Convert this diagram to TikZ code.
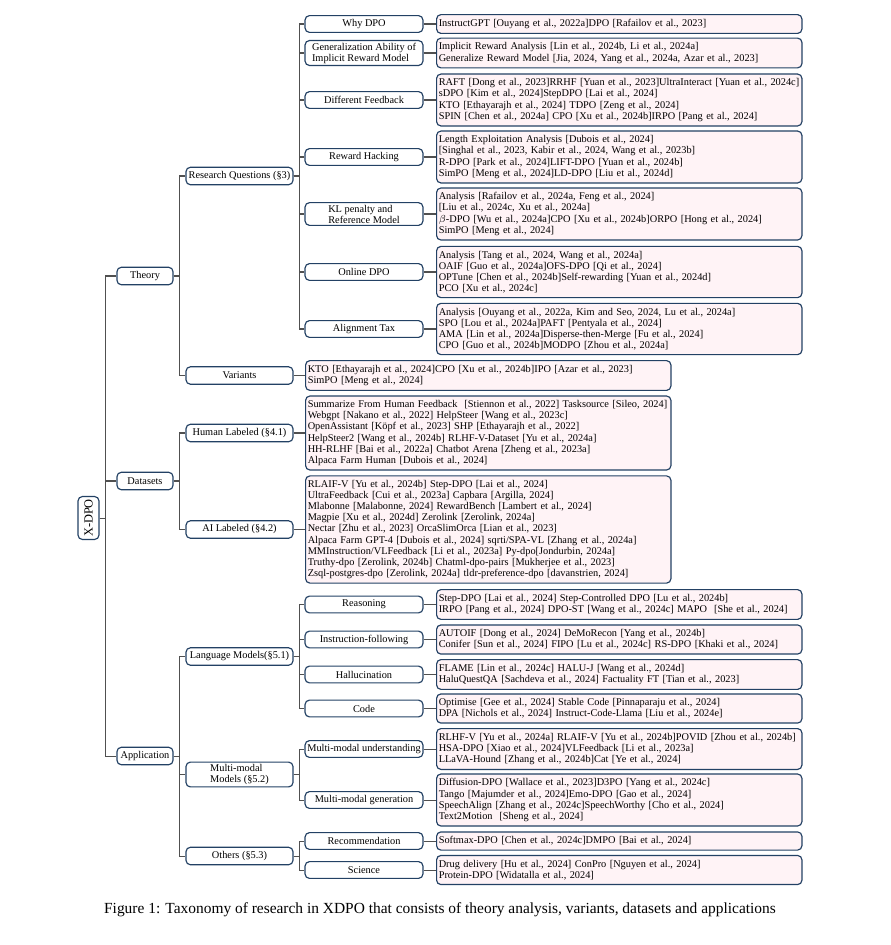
\documentclass[tikz,border=0pt]{standalone}
\usepackage{fontspec}
\setmainfont{Liberation Serif}
\usepackage{graphicx}
\usepackage{xcolor}
\definecolor{boxblue}{RGB}{35,65,100}
\definecolor{leafpink}{RGB}{255,243,246}
\definecolor{linkgray}{RGB}{80,80,80}
\tikzset{
  box/.style={draw=boxblue, rounded corners=3pt, line width=0.8pt, fill=white, inner sep=1.5pt, font=\fontsize{7.1}{7.6}\selectfont},
  rootbox/.style={box, minimum width=14.4pt, minimum height=29.5pt, font=\fontsize{8.5}{9}\selectfont},
  levone/.style={box, minimum width=38.5pt, minimum height=12pt},
  levtwo/.style={box, minimum width=73.5pt, minimum height=12pt, align=left},
  levthree/.style={box, minimum width=81pt, minimum height=11.5pt, align=left},
  leaf/.style={box, fill=leafpink, text width=248pt, align=left, inner ysep=3.2pt, anchor=west},
  link/.style={draw=linkgray, line width=0.7pt}
}
\begin{document}
\begin{tikzpicture}[x=0.687pt,y=-0.687pt]
\useasboundingbox (0,0) rectangle (891,945);

\node [rootbox] (xdpo) at (88.5,518) {\rotatebox{90}{X-DPO}};

\node [levone] (theory) at (145,276) {Theory};
\node [levone] (datasets) at (145,481) {Datasets};
\node [levone] (application) at (145,756) {Application};

\node [levtwo] (rq) at (239.5,176) {Research Questions (§3)};
\node [levtwo] (variants) at (239.5,375.5) {Variants};
\node [levtwo] (human) at (239.5,433) {Human Labeled (§4.1)};
\node [levtwo] (ailab) at (239.5,529.5) {AI Labeled (§4.2)};
\node [levtwo] (langm) at (239.5,656.5) {Language Models(§5.1)};
\node [levtwo] (mmodel) at (239.5,774.5) {Multi-modal\\Models (§5.2)};
\node [levtwo] (others) at (239.5,856) {Others (§5.3)};

\node [levthree] (why) at (364,24) {Why DPO};
\node [levthree] (gener) at (364,53) {Generalization Ability of\\Implicit Reward Model};
\node [levthree] (feedback) at (364,100) {Different Feedback};
\node [levthree] (hacking) at (364,157) {Reward Hacking};
\node [levthree] (klpen) at (364,214) {KL penalty and\\Reference Model};
\node [levthree] (online) at (364,272) {Online DPO};
\node [levthree] (tax) at (364,329) {Alignment Tax};
\node [levthree] (reason) at (364,604.5) {Reasoning};
\node [levthree] (instr) at (364,639.5) {Instruction-following};
\node [levthree] (hallu) at (364,674.5) {Hallucination};
\node [levthree] (code) at (364,708.5) {Code};
\node [levthree] (mmund) at (364,749) {Multi-modal understanding};
\node [levthree] (mmgen) at (364,800) {Multi-modal generation};
\node [levthree] (recom) at (364,841) {Recommendation};
\node [levthree] (sci) at (364,870) {Science};

\node [leaf] (whyL) at (436,24) {InstructGPT [Ouyang et al., 2022a]DPO [Rafailov et al., 2023]};
\node [leaf] (generL) at (436,53) {Implicit Reward Analysis [Lin et al., 2024b, Li et al., 2024a]\\Generalize Reward Model [Jia, 2024, Yang et al., 2024a, Azar et al., 2023]};
\node [leaf] (feedbackL) at (436,100) {RAFT [Dong et al., 2023]RRHF [Yuan et al., 2023]UltraInteract [Yuan et al., 2024c]\\sDPO [Kim et al., 2024]StepDPO [Lai et al., 2024]\\KTO [Ethayarajh et al., 2024] TDPO [Zeng et al., 2024]\\SPIN [Chen et al., 2024a] CPO [Xu et al., 2024b]IRPO [Pang et al., 2024]};
\node [leaf] (hackingL) at (436,157) {Length Exploitation Analysis [Dubois et al., 2024]\\ {[}Singhal et al., 2023, Kabir et al., 2024, Wang et al., 2023b]\\R-DPO [Park et al., 2024]LIFT-DPO [Yuan et al., 2024b]\\SimPO [Meng et al., 2024]LD-DPO [Liu et al., 2024d]};
\node [leaf] (klpenL) at (436,214) {Analysis [Rafailov et al., 2024a, Feng et al., 2024]\\ {[}Liu et al., 2024c, Xu et al., 2024a]\\$\beta$-DPO [Wu et al., 2024a]CPO [Xu et al., 2024b]ORPO [Hong et al., 2024]\\SimPO [Meng et al., 2024]};
\node [leaf] (onlineL) at (436,272) {Analysis [Tang et al., 2024, Wang et al., 2024a]\\OAIF [Guo et al., 2024a]OFS-DPO [Qi et al., 2024]\\OPTune [Chen et al., 2024b]Self-rewarding [Yuan et al., 2024d]\\PCO [Xu et al., 2024c]};
\node [leaf] (taxL) at (436,329) {Analysis [Ouyang et al., 2022a, Kim and Seo, 2024, Lu et al., 2024a]\\SPO [Lou et al., 2024a]PAFT [Pentyala et al., 2024]\\AMA [Lin et al., 2024a]Disperse-then-Merge [Fu et al., 2024]\\CPO [Guo et al., 2024b]MODPO [Zhou et al., 2024a]};

\node [leaf] (variantsL) at (305,375.5) {KTO [Ethayarajh et al., 2024]CPO [Xu et al., 2024b]IPO [Azar et al., 2023]\\SimPO [Meng et al., 2024]};
\node [leaf] (humanL) at (305,433) {Summarize From Human Feedback \ [Stiennon et al., 2022] Tasksource [Sileo, 2024]\\Webgpt [Nakano et al., 2022] HelpSteer [Wang et al., 2023c]\\OpenAssistant [Köpf et al., 2023] SHP [Ethayarajh et al., 2022]\\HelpSteer2 [Wang et al., 2024b] RLHF-V-Dataset [Yu et al., 2024a]\\HH-RLHF [Bai et al., 2022a] Chatbot Arena [Zheng et al., 2023a]\\Alpaca Farm Human [Dubois et al., 2024]};
\node [leaf] (ailabL) at (305,529.5) {RLAIF-V [Yu et al., 2024b] Step-DPO [Lai et al., 2024]\\UltraFeedback [Cui et al., 2023a] Capbara [Argilla, 2024]\\Mlabonne [Malabonne, 2024] RewardBench [Lambert et al., 2024]\\Magpie [Xu et al., 2024d] Zerolink [Zerolink, 2024a]\\Nectar [Zhu et al., 2023] OrcaSlimOrca [Lian et al., 2023]\\Alpaca Farm GPT-4 [Dubois et al., 2024] sqrti/SPA-VL [Zhang et al., 2024a]\\MMInstruction/VLFeedback [Li et al., 2023a] Py-dpo[Jondurbin, 2024a]\\Truthy-dpo [Zerolink, 2024b] Chatml-dpo-pairs [Mukherjee et al., 2023]\\Zsql-postgres-dpo [Zerolink, 2024a] tldr-preference-dpo [davanstrien, 2024]};

\node [leaf] (reasonL) at (436,604.5) {Step-DPO [Lai et al., 2024] Step-Controlled DPO [Lu et al., 2024b]\\IRPO [Pang et al., 2024] DPO-ST [Wang et al., 2024c] MAPO \ [She et al., 2024]};
\node [leaf] (instrL) at (436,639.5) {AUTOIF [Dong et al., 2024] DeMoRecon [Yang et al., 2024b]\\Conifer [Sun et al., 2024] FIPO [Lu et al., 2024c] RS-DPO [Khaki et al., 2024]};
\node [leaf] (halluL) at (436,674.5) {FLAME [Lin et al., 2024c] HALU-J [Wang et al., 2024d]\\HaluQuestQA [Sachdeva et al., 2024] Factuality FT [Tian et al., 2023]};
\node [leaf] (codeL) at (436,708.5) {Optimise [Gee et al., 2024] Stable Code [Pinnaparaju et al., 2024]\\DPA [Nichols et al., 2024] Instruct-Code-Llama [Liu et al., 2024e]};
\node [leaf] (mmundL) at (436,749) {RLHF-V [Yu et al., 2024a] RLAIF-V [Yu et al., 2024b]POVID [Zhou et al., 2024b]\\HSA-DPO [Xiao et al., 2024]VLFeedback [Li et al., 2023a]\\LLaVA-Hound [Zhang et al., 2024b]Cat [Ye et al., 2024]};
\node [leaf] (mmgenL) at (436,800) {Diffusion-DPO [Wallace et al., 2023]D3PO [Yang et al., 2024c]\\Tango [Majumder et al., 2024]Emo-DPO [Gao et al., 2024]\\SpeechAlign [Zhang et al., 2024c]SpeechWorthy [Cho et al., 2024]\\Text2Motion \ [Sheng et al., 2024]};
\node [leaf] (recomL) at (436,841) {Softmax-DPO [Chen et al., 2024c]DMPO [Bai et al., 2024]};
\node [leaf] (sciL) at (436,870) {Drug delivery [Hu et al., 2024] ConPro [Nguyen et al., 2024]\\Protein-DPO [Widatalla et al., 2024]};

\draw [link] (xdpo.east) -- +(6,0) |- (theory.west);
\draw [link] (xdpo.east) -- +(6,0) |- (datasets.west);
\draw [link] (xdpo.east) -- +(6,0) |- (application.west);

\draw [link] (theory.east) -- +(6,0) |- (rq.west);
\draw [link] (theory.east) -- +(6,0) |- (variants.west);
\draw [link] (datasets.east) -- +(6,0) |- (human.west);
\draw [link] (datasets.east) -- +(6,0) |- (ailab.west);
\draw [link] (application.east) -- +(6,0) |- (langm.west);
\draw [link] (application.east) -- +(6,0) |- (mmodel.west);
\draw [link] (application.east) -- +(6,0) |- (others.west);

\draw [link] (rq.east) -- +(6,0) |- (why.west);
\draw [link] (rq.east) -- +(6,0) |- (gener.west);
\draw [link] (rq.east) -- +(6,0) |- (feedback.west);
\draw [link] (rq.east) -- +(6,0) |- (hacking.west);
\draw [link] (rq.east) -- +(6,0) |- (klpen.west);
\draw [link] (rq.east) -- +(6,0) |- (online.west);
\draw [link] (rq.east) -- +(6,0) |- (tax.west);
\draw [link] (variants.east) -- (variantsL.west);
\draw [link] (human.east) -- (humanL.west);
\draw [link] (ailab.east) -- (ailabL.west);
\draw [link] (langm.east) -- +(6,0) |- (reason.west);
\draw [link] (langm.east) -- +(6,0) |- (instr.west);
\draw [link] (langm.east) -- +(6,0) |- (hallu.west);
\draw [link] (langm.east) -- +(6,0) |- (code.west);
\draw [link] (mmodel.east) -- +(6,0) |- (mmund.west);
\draw [link] (mmodel.east) -- +(6,0) |- (mmgen.west);
\draw [link] (others.east) -- +(6,0) |- (recom.west);
\draw [link] (others.east) -- +(6,0) |- (sci.west);

\draw [link] (why.east) -- (whyL.west);
\draw [link] (gener.east) -- (generL.west);
\draw [link] (feedback.east) -- (feedbackL.west);
\draw [link] (hacking.east) -- (hackingL.west);
\draw [link] (klpen.east) -- (klpenL.west);
\draw [link] (online.east) -- (onlineL.west);
\draw [link] (tax.east) -- (taxL.west);
\draw [link] (reason.east) -- (reasonL.west);
\draw [link] (instr.east) -- (instrL.west);
\draw [link] (hallu.east) -- (halluL.west);
\draw [link] (code.east) -- (codeL.west);
\draw [link] (mmund.east) -- (mmundL.west);
\draw [link] (mmgen.east) -- (mmgenL.west);
\draw [link] (recom.east) -- (recomL.west);
\draw [link] (sci.east) -- (sciL.west);

\node (caption) at (440,910) {\fontsize{10.6}{12}\selectfont Figure 1: Taxonomy of research in XDPO that consists of theory analysis, variants, datasets and applications};
\end{tikzpicture}
\end{document}
